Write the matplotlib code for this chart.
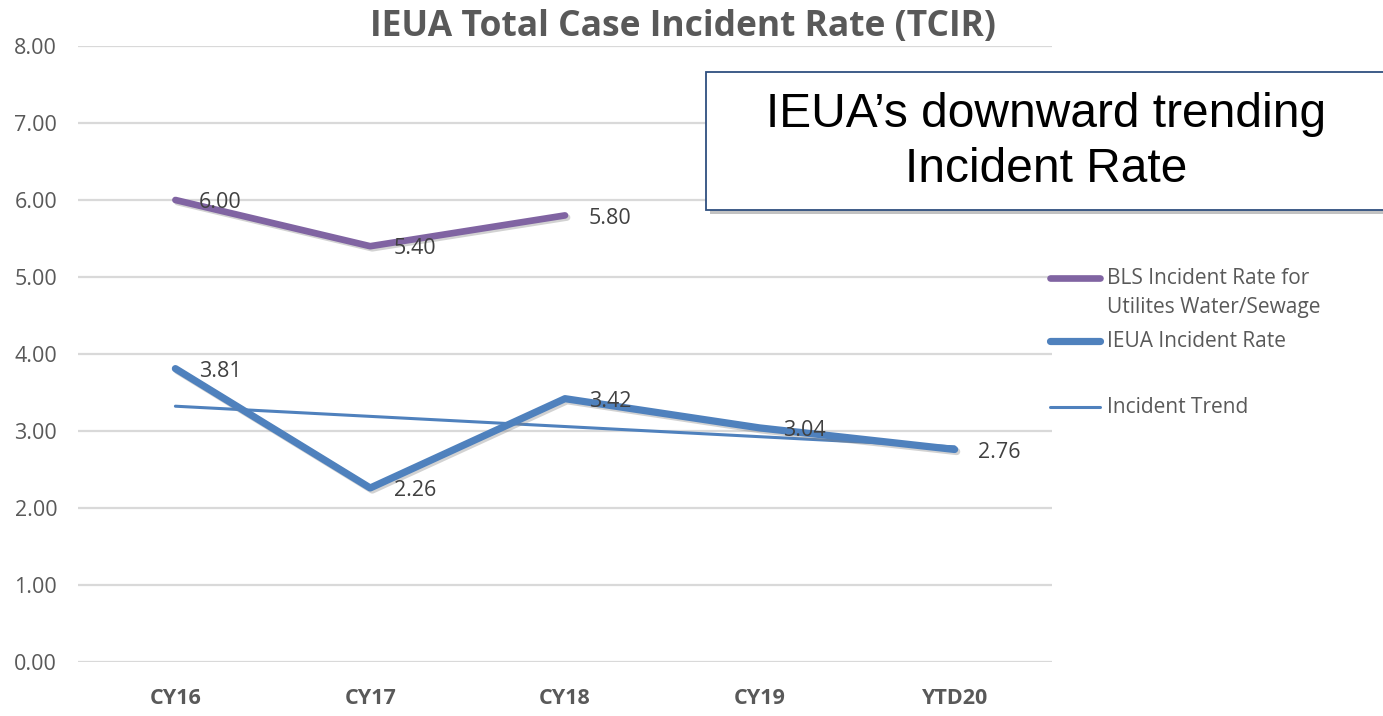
import matplotlib
matplotlib.use("Agg")
import matplotlib.pyplot as plt
import matplotlib.patheffects as pe
from matplotlib.lines import Line2D
from matplotlib.patches import Rectangle
import numpy as np

# chart data
categories = ["CY16", "CY17", "CY18", "CY19", "YTD20"]
bls_rate = [6.00, 5.40, 5.80]
ieua_rate = [3.81, 2.26, 3.42, 3.04, 2.76]
y_ticks = [0, 1, 2, 3, 4, 5, 6, 7, 8]
series_labels = ["BLS Incident Rate for\nUtilites Water/Sewage", "IEUA Incident Rate", "Incident Trend"]

PURPLE = "#8064A2"
BLUE = "#4F81BD"
GRAY = "#595959"

plt.rcParams["font.family"] = ["Open Sans", "DejaVu Sans"]

fig = plt.figure(figsize=(13.83, 7.16), dpi=100)
ax = fig.add_axes([78 / 1383, 54 / 716, (1052 - 78) / 1383, (670 - 54) / 716])

x = np.arange(len(categories))
shadow = [pe.SimpleLineShadow(offset=(1.5, -1.5), shadow_color="gray", alpha=0.35), pe.Normal()]

# linear trend of IEUA rate (Excel style trendline)
slope, intercept = np.polyfit(x, ieua_rate, 1)
trend = slope * x + intercept

ax.plot(x, trend, color=BLUE, lw=2.2, solid_capstyle="round", zorder=3)
ax.plot(x[:len(bls_rate)], bls_rate, color=PURPLE, lw=4.8, solid_capstyle="round",
        solid_joinstyle="round", path_effects=shadow, zorder=4)
ax.plot(x, ieua_rate, color=BLUE, lw=5.2, solid_capstyle="round",
        solid_joinstyle="round", path_effects=shadow, zorder=5)

for xi, v in zip(x, bls_rate):
    ax.annotate(f"{v:.2f}", (xi, v), xytext=(17, -2), textcoords="offset points",
                ha="left", va="center", fontsize=15.5, color="#404040", zorder=6)
for xi, v in zip(x, ieua_rate):
    ax.annotate(f"{v:.2f}", (xi, v), xytext=(17, -2), textcoords="offset points",
                ha="left", va="center", fontsize=15.5, color="#404040", zorder=6)

ax.set_xlim(-0.5, len(categories) - 0.5)
ax.set_ylim(0, 8)
ax.set_yticks(y_ticks)
ax.set_yticklabels([f"{t:.2f}" for t in y_ticks])
ax.set_xticks(x)
ax.set_xticklabels(categories, fontweight="bold")
ax.tick_params(axis="both", length=0, labelsize=15.5, labelcolor=GRAY)
ax.tick_params(axis="x", pad=19)
ax.tick_params(axis="y", pad=15)
ax.grid(axis="y", color="#D9D9D9", lw=1.6)
ax.set_axisbelow(True)
for s in ax.spines.values():
    s.set_visible(False)

fig.text(683 / 1383, 1 - 27 / 716, "IEUA Total Case Incident Rate (TCIR)", ha="center", va="center",
         fontsize=25.5, fontweight="bold", color=GRAY)

# legend drawn at the right of the plot
legend_rows = [(278, PURPLE, 4.8), (341, BLUE, 5.2), (407, BLUE, 2.2)]
for (yy, col, lw), lab in zip(legend_rows, series_labels):
    yf = 1 - yy / 716
    fig.add_artist(Line2D([1050 / 1383, 1100 / 1383], [yf, yf], transform=fig.transFigure,
                          color=col, lw=lw, solid_capstyle="round"))
    fig.text(1107 / 1383, yf + 0.014, lab, ha="left", va="top", fontsize=15,
             color=GRAY, linespacing=1.5)

# callout box
shadow_box = Rectangle((710 / 1383, 1 - 214 / 716), 700 / 1383, 138 / 716, transform=fig.transFigure,
                       facecolor="#9A9A9A", edgecolor="none", alpha=0.6, zorder=9)
box = Rectangle((706 / 1383, 1 - 210 / 716), 700 / 1383, 138 / 716, transform=fig.transFigure,
                facecolor="white", edgecolor="#2F4F7F", lw=1.3, zorder=10)
fig.add_artist(shadow_box)
fig.add_artist(box)
fig.text(1046 / 1383, 1 - 142 / 716, "IEUA\u2019s downward trending\nIncident Rate", ha="center", va="center",
         fontsize=34.5, family=["Liberation Sans Narrow", "Liberation Sans", "DejaVu Sans"],
         color="black", linespacing=1.3, zorder=11)

fig.savefig("out.png", dpi=100)
